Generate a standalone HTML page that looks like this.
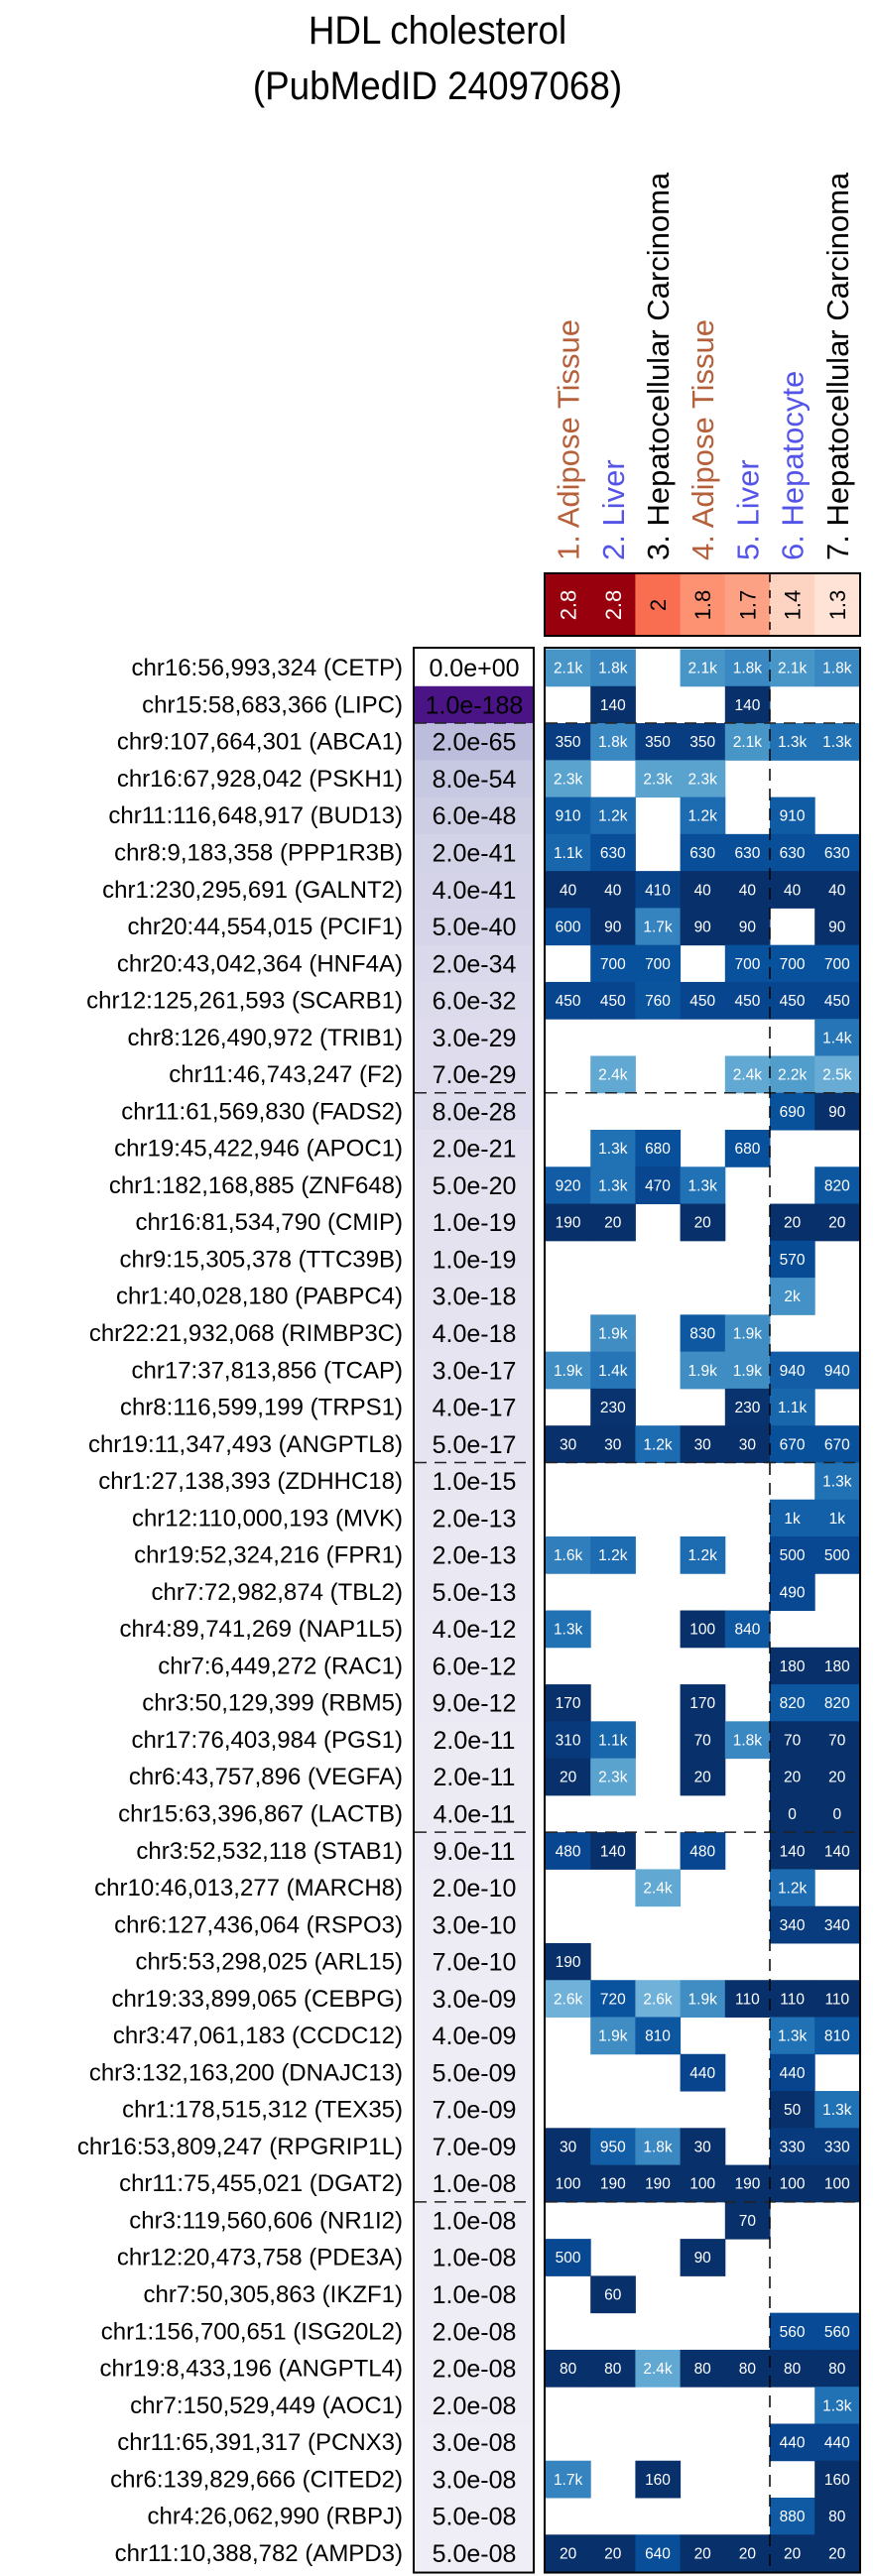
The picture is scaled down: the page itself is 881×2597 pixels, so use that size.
<!DOCTYPE html>
<html><head><meta charset="utf-8"><style>
html,body{margin:0;padding:0;background:#fff;}
svg{display:block;font-family:"Liberation Sans",sans-serif;}
</style></head><body>
<svg id="chart" width="881" height="2597" viewBox="0 0 881 2597" xmlns="http://www.w3.org/2000/svg">
<text x="441" y="44" text-anchor="middle" font-size="40" transform="translate(441,0) scale(0.92,1) translate(-441,0)">HDL cholesterol</text>
<text x="441" y="100" text-anchor="middle" font-size="40" transform="translate(441,0) scale(0.92,1) translate(-441,0)">(PubMedID 24097068)</text>
<g id="g"></g>
</svg>
<script>
const colLabels=["1. Adipose Tissue","2. Liver","3. Hepatocellular Carcinoma","4. Adipose Tissue","5. Liver","6. Hepatocyte","7. Hepatocellular Carcinoma"];
const colLabelColors=["#b5603a","#5454e8","#000","#b5603a","#5454e8","#5454e8","#000"];
const colScores=[2.8,2.8,2,1.8,1.7,1.4,1.3];
const rowLabels=["chr16:56,993,324 (CETP)","chr15:58,683,366 (LIPC)","chr9:107,664,301 (ABCA1)","chr16:67,928,042 (PSKH1)","chr11:116,648,917 (BUD13)","chr8:9,183,358 (PPP1R3B)","chr1:230,295,691 (GALNT2)","chr20:44,554,015 (PCIF1)","chr20:43,042,364 (HNF4A)","chr12:125,261,593 (SCARB1)","chr8:126,490,972 (TRIB1)","chr11:46,743,247 (F2)","chr11:61,569,830 (FADS2)","chr19:45,422,946 (APOC1)","chr1:182,168,885 (ZNF648)","chr16:81,534,790 (CMIP)","chr9:15,305,378 (TTC39B)","chr1:40,028,180 (PABPC4)","chr22:21,932,068 (RIMBP3C)","chr17:37,813,856 (TCAP)","chr8:116,599,199 (TRPS1)","chr19:11,347,493 (ANGPTL8)","chr1:27,138,393 (ZDHHC18)","chr12:110,000,193 (MVK)","chr19:52,324,216 (FPR1)","chr7:72,982,874 (TBL2)","chr4:89,741,269 (NAP1L5)","chr7:6,449,272 (RAC1)","chr3:50,129,399 (RBM5)","chr17:76,403,984 (PGS1)","chr6:43,757,896 (VEGFA)","chr15:63,396,867 (LACTB)","chr3:52,532,118 (STAB1)","chr10:46,013,277 (MARCH8)","chr6:127,436,064 (RSPO3)","chr5:53,298,025 (ARL15)","chr19:33,899,065 (CEBPG)","chr3:47,061,183 (CCDC12)","chr3:132,163,200 (DNAJC13)","chr1:178,515,312 (TEX35)","chr16:53,809,247 (RPGRIP1L)","chr11:75,455,021 (DGAT2)","chr3:119,560,606 (NR1I2)","chr12:20,473,758 (PDE3A)","chr7:50,305,863 (IKZF1)","chr1:156,700,651 (ISG20L2)","chr19:8,433,196 (ANGPTL4)","chr7:150,529,449 (AOC1)","chr11:65,391,317 (PCNX3)","chr6:139,829,666 (CITED2)","chr4:26,062,990 (RBPJ)","chr11:10,388,782 (AMPD3)"];
const pValues=["0.0e+00","1.0e-188","2.0e-65","8.0e-54","6.0e-48","2.0e-41","4.0e-41","5.0e-40","2.0e-34","6.0e-32","3.0e-29","7.0e-29","8.0e-28","2.0e-21","5.0e-20","1.0e-19","1.0e-19","3.0e-18","4.0e-18","3.0e-17","4.0e-17","5.0e-17","1.0e-15","2.0e-13","2.0e-13","5.0e-13","4.0e-12","6.0e-12","9.0e-12","2.0e-11","2.0e-11","4.0e-11","9.0e-11","2.0e-10","3.0e-10","7.0e-10","3.0e-09","4.0e-09","5.0e-09","7.0e-09","7.0e-09","1.0e-08","1.0e-08","1.0e-08","1.0e-08","2.0e-08","2.0e-08","2.0e-08","3.0e-08","3.0e-08","5.0e-08","5.0e-08"];
const N=null;
const cellValues=[
[2100,1800,N,2100,1800,2100,1800],
[N,140,N,N,140,N,N],
[350,1800,350,350,2100,1300,1300],
[2300,N,2300,2300,N,N,N],
[910,1200,N,1200,N,910,N],
[1100,630,N,630,630,630,630],
[40,40,410,40,40,40,40],
[600,90,1700,90,90,N,90],
[N,700,700,N,700,700,700],
[450,450,760,450,450,450,450],
[N,N,N,N,N,N,1400],
[N,2400,N,N,2400,2200,2500],
[N,N,N,N,N,690,90],
[N,1300,680,N,680,N,N],
[920,1300,470,1300,N,N,820],
[190,20,N,20,N,20,20],
[N,N,N,N,N,570,N],
[N,N,N,N,N,2000,N],
[N,1900,N,830,1900,N,N],
[1900,1400,N,1900,1900,940,940],
[N,230,N,N,230,1100,N],
[30,30,1200,30,30,670,670],
[N,N,N,N,N,N,1300],
[N,N,N,N,N,1000,1000],
[1600,1200,N,1200,N,500,500],
[N,N,N,N,N,490,N],
[1300,N,N,100,840,N,N],
[N,N,N,N,N,180,180],
[170,N,N,170,N,820,820],
[310,1100,N,70,1800,70,70],
[20,2300,N,20,N,20,20],
[N,N,N,N,N,0,0],
[480,140,N,480,N,140,140],
[N,N,2400,N,N,1200,N],
[N,N,N,N,N,340,340],
[190,N,N,N,N,N,N],
[2600,720,2600,1900,110,110,110],
[N,1900,810,N,N,1300,810],
[N,N,N,440,N,440,N],
[N,N,N,N,N,50,1300],
[30,950,1800,30,N,330,330],
[100,190,190,100,190,100,100],
[N,N,N,N,70,N,N],
[500,N,N,90,N,N,N],
[N,60,N,N,N,N,N],
[N,N,N,N,N,560,560],
[80,80,2400,80,80,80,80],
[N,N,N,N,N,N,1300],
[N,N,N,N,N,440,440],
[1700,N,160,N,N,N,160],
[N,N,N,N,N,880,80],
[20,20,640,20,20,20,20]];
const dashAfter=[1,11,21,31,41];

const NS="http://www.w3.org/2000/svg";
const g=document.getElementById('g');
const X0=550,CW=45.2,Y0=654.5,RH=37.27;
const colX=i=>X0+CW*i, rowY=r=>Y0+RH*r;
function mk(t,a,p){const e=document.createElementNS(NS,t);for(const k in a)e.setAttribute(k,a[k]);(p||g).appendChild(e);return e;}
function lerp(a,b,t){return a.map((v,i)=>Math.round(v+(b[i]-v)*t));}
function hex(h){return [1,3,5].map(i=>parseInt(h.substr(i,2),16));}
function rgb(c){return 'rgb('+c.join(',')+')';}
function ramp(stops,v){if(v<=stops[0][0])return rgb(hex(stops[0][1]));for(let i=1;i<stops.length;i++){if(v<=stops[i][0]){const t=(v-stops[i-1][0])/(stops[i][0]-stops[i-1][0]);return rgb(lerp(hex(stops[i-1][1]),hex(stops[i][1]),t));}}return rgb(hex(stops[stops.length-1][1]));}
const blueStops=[[200,'#08306b'],[450,'#08458f'],[700,'#08519c'],[1000,'#1460a8'],[1300,'#2171b5'],[1800,'#3a88c1'],[2100,'#4896c8'],[2300,'#5aa3cf'],[2600,'#6fb1d8']];
const redStops=[[1.3,'#fee3d6'],[1.4,'#fdd4c2'],[1.7,'#fca183'],[1.8,'#fc9272'],[2,'#f96e51'],[2.4,'#d6352a'],[2.8,'#99000d']];
const purpStops=[[7,'#efedf5'],[20,'#e3e1ef'],[34,'#dad9eb'],[48,'#cccce4'],[65,'#bcbddc'],[120,'#8d7db9'],[188,'#4a1486']];
function fmt(v){return v>=1000?(Math.round(v/100)/10)+'k':String(v);}

// column labels
colLabels.forEach((s,i)=>{const cx=colX(i)+CW/2+11;
 const t=mk('text',{x:cx,y:565,'font-size':31,fill:colLabelColors[i],transform:`rotate(-90 ${cx} 565)`});
 
 
 t.textContent=s;});
// header score box
colScores.forEach((v,i)=>{
 const r=mk('rect',{x:colX(i),y:579,width:CW+0.5,height:62,fill:ramp(redStops,v)});
 
 
 const cx=colX(i)+CW/2+8;
 const t=mk('text',{x:cx,y:610,'font-size':22,'text-anchor':'middle',fill:v>=2.4?'#fff':'#000',transform:`rotate(-90 ${cx} 610)`});
 
 
 t.textContent=String(v);});
const hb=mk('rect',{x:549,y:578,width:318,height:63,fill:'none',stroke:'#000','stroke-width':2});


mk('line',{x1:776,y1:579,x2:776,y2:641,stroke:'#000','stroke-width':1.5,'stroke-dasharray':'8 8'});

// rows
rowLabels.forEach((s,r)=>{
 const y=rowY(r);
 const t=mk('text',{x:406,y:y+RH/2+8,'font-size':24,'text-anchor':'end',fill:'#000'});
 
 
 t.textContent=s;
 const lp=r===0?0:-Math.log10(parseFloat(pValues[r]));
 const pr=mk('rect',{x:418,y:y,width:119,height:RH+0.5,fill:r===0?'#fff':ramp(purpStops,lp)});
 
 
 const pt=mk('text',{x:478,y:y+RH/2+9,'font-size':25,'text-anchor':'middle',fill:'#000'});
 
 
 pt.textContent=pValues[r];
 cellValues[r].forEach((v,c)=>{
  if(v===null)return;
  const cr=mk('rect',{x:colX(c),y:y,width:CW+0.5,height:RH+0.5,fill:ramp(blueStops,v)});
  
  
  const ct=mk('text',{x:colX(c)+CW/2,y:y+RH/2+5.5,'font-size':15.5,'text-anchor':'middle',fill:'#fff'});
  
  
  ct.textContent=fmt(v);
 });
});
// dashed separators
dashAfter.forEach(r=>{const y=rowY(r+1);
 const l1=mk('line',{x1:418,x2:537,y1:y,y2:y,stroke:'#222','stroke-width':1.5,'stroke-dasharray':'12 8'});
 
 
 const l2=mk('line',{x1:550,x2:866,y1:y,y2:y,stroke:'#222','stroke-width':1.5,'stroke-dasharray':'12 8'});
 
 });
const vl=mk('line',{x1:776,x2:776,y1:655,y2:rowY(rowLabels.length),stroke:'#000','stroke-width':1.5,'stroke-dasharray':'12 8'});


const pb=mk('rect',{x:417,y:653,width:121,height:rowY(rowLabels.length)-653+1,fill:'none',stroke:'#000','stroke-width':2});


const mb=mk('rect',{x:549,y:653,width:318,height:rowY(rowLabels.length)-653+1,fill:'none',stroke:'#000','stroke-width':2});


</script>
</body></html>
